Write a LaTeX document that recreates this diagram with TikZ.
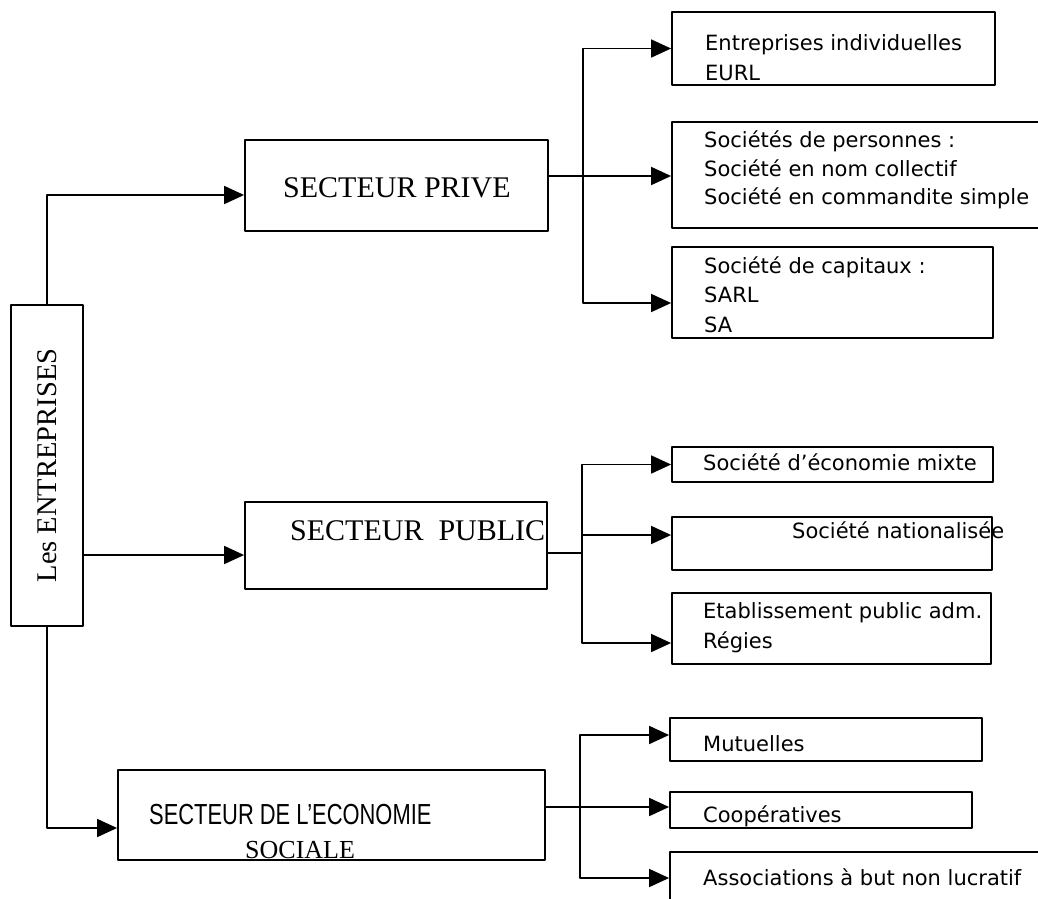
\documentclass[tikz,border=0pt]{standalone}
\usepackage{fontspec}
\setmainfont{Liberation Serif}
\setsansfont{DejaVu Sans}
\newfontfamily\etroite[FakeStretch=0.755]{Liberation Sans}
\usetikzlibrary{arrows.meta}

\begin{document}
\begin{tikzpicture}[line cap=round,line join=round,x=1pt,y=-1pt,
    >={Triangle[length=20pt,width=18pt]},
    boite/.style={draw,line width=1.8pt,inner sep=0pt},
    fleche/.style={line width=1.7pt,->},
    trait/.style={line width=1.7pt},
    titre/.style={anchor=base west,inner sep=0pt,font=\fontsize{30}{36}\selectfont},
    liste/.style={anchor=base west,inner sep=0pt,font=\sffamily\fontsize{21}{28}\selectfont}]%les entreprises
    \useasboundingbox (0,0) rectangle (1038,898);
    % boites
    \node[boite,rotate=90,minimum width=321pt,minimum height=72pt,font=\fontsize{28.5}{34}\selectfont] (ent) at (47,465.5) {Les ENTREPRISES};
    \node[boite,minimum width=303pt,minimum height=91pt] (prive) at (396.5,185.5) {};
    \node[boite,minimum width=302pt,minimum height=87pt] (public) at (396,545.5) {};
    \node[boite,minimum width=427pt,minimum height=90pt] (social) at (331.5,815) {};
    \node[boite,minimum width=323pt,minimum height=73pt] (indiv) at (833.5,48.5) {};
    \node[boite,minimum width=388pt,minimum height=106pt] (pers) at (866,175) {};
    \node[boite,minimum width=321pt,minimum height=91pt] (capit) at (832.5,292.5) {};
    \node[boite,minimum width=321pt,minimum height=35pt] (mixte) at (832.5,464.5) {};
    \node[boite,minimum width=320pt,minimum height=53pt] (nation) at (832,543.5) {};
    \node[boite,minimum width=319pt,minimum height=71pt] (etab) at (831.5,628.5) {};
    \node[boite,minimum width=312pt,minimum height=43pt] (mutu) at (826,739.5) {};
    \node[boite,minimum width=302pt,minimum height=36pt] (coop) at (821,810) {};
    \node[boite,minimum width=390pt,minimum height=78pt] (assoc) at (865,891) {};
    % textes
    \node[titre] (t-prive) at (283,197) {SECTEUR PRIVE};
    \node[titre] (t-public) at (290,540) {SECTEUR~~PUBLIC};
    \node[anchor=base west,inner sep=0pt,font=\etroite\fontsize{29}{34}\selectfont] (t-social1) at (149,824) {SECTEUR DE L’ECONOMIE};
    \node[titre,font=\fontsize{26}{30}\selectfont] (t-social2) at (245,858) {SOCIALE};
    \node[liste] (t-indiv1) at (705,50) {Entreprises individuelles};
    \node[liste] (t-indiv2) at (705,80) {EURL};
    \node[liste] (t-pers1) at (704,147) {Sociétés de personnes :};
    \node[liste] (t-pers2) at (704,176) {Société en nom collectif};
    \node[liste] (t-pers3) at (704,204) {Société en commandite simple};
    \node[liste] (t-capit1) at (704,273) {Société de capitaux :};
    \node[liste] (t-capit2) at (704,302) {SARL};
    \node[liste] (t-capit3) at (704,332) {SA};
    \node[liste] (t-mixte) at (703,470) {Société d’économie mixte};
    \node[liste] (t-nation) at (792,538) {Société nationalisée};
    \node[liste] (t-etab1) at (703,618) {Etablissement public adm.};
    \node[liste] (t-etab2) at (703,648) {Régies};
    \node[liste] (t-mutu) at (703,751) {Mutuelles};
    \node[liste] (t-coop) at (703,822) {Coopératives};
    \node[liste] (t-assoc) at (703,885) {Associations à but non lucratif};
    % points d'entree et de sortie
    \coordinate (bus1) at (583,0);
    \coordinate (bus2) at (582,0);
    \coordinate (bus3) at (580,0);
    \coordinate (in-prive) at ([yshift=-9.5pt]prive.west);
    \coordinate (in-public) at ([yshift=-9.5pt]public.west);
    \coordinate (in-social) at ([yshift=-13pt]social.west);
    \coordinate (out-prive) at ([yshift=9.5pt]prive.east);
    \coordinate (out-public) at ([yshift=-7.5pt]public.east);
    \coordinate (out-social) at ([yshift=8pt]social.east);
    \coordinate (in-capit) at ([yshift=-10.5pt]capit.west);
    \coordinate (in-nation) at ([yshift=8.5pt]nation.west);
    \coordinate (in-etab) at ([yshift=-14.5pt]etab.west);
    \coordinate (in-mutu) at ([yshift=4.5pt]mutu.west);
    \coordinate (in-assoc) at ([yshift=13pt]assoc.west);
    % fleches
    \draw[fleche] (ent.east) |- (in-prive);
    \draw[fleche] (ent.south |- in-public) -- (in-public);
    \draw[fleche] (ent.west) |- (in-social);
    \draw[fleche] (out-prive) -- (out-prive -| pers.west);
    \draw[fleche] (out-prive -| bus1) |- (indiv.west);
    \draw[fleche] (out-prive -| bus1) |- (in-capit);
    \draw[trait] (out-public) -- (out-public -| bus2);
    \draw[fleche] (out-public -| bus2) |- (mixte.west);
    \draw[fleche] (out-public -| bus2) |- (in-nation);
    \draw[fleche] (out-public -| bus2) |- (in-etab);
    \draw[fleche] (out-social) -- (out-social -| coop.west);
    \draw[fleche] (out-social -| bus3) |- (in-mutu);
    \draw[fleche] (out-social -| bus3) |- (in-assoc);
\end{tikzpicture}
\end{document}
